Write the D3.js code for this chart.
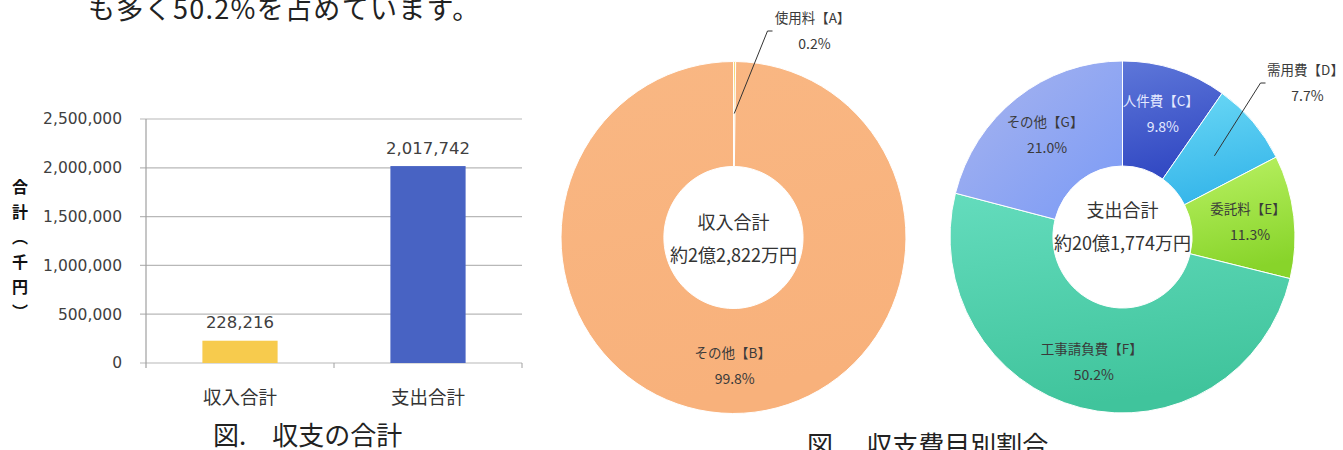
<!DOCTYPE html>
<html><head><meta charset="utf-8">
<script src="https://cdn.jsdelivr.net/npm/d3@7"></script>
<style>
body{margin:0;background:#fff;overflow:hidden}
svg{display:block}
.jp{font-family:"Noto Sans CJK JP","Noto Sans",sans-serif}
.num{font-family:"DejaVu Sans",Verdana,sans-serif}
</style>
</head><body>
<svg id="c" width="1343" height="450"></svg>
<script>
// ---------- data ----------
const headline = "も多く50.2%を占めています。";
const barCaption = "図.　収支の合計";
const pieCaption = "図.　収支費目別割合";
const yTitle = "合計（千円）";

const barCategories = ["収入合計", "支出合計"];
const barValues = [228216, 2017742];
const barColors = ["#F7CB4D", "#4863C3"];
const yTicks = [0, 500000, 1000000, 1500000, 2000000, 2500000];

const incomeTitle = ["収入合計", "約2億2,822万円"];
const incomeLabels = ["使用料【A】", "その他【B】"];
const incomeShares = [0.2, 99.8];
const incomeColors = [["#F8DA7A", "#F4CF66"], ["#F9B783", "#F8B17B"]];

const expenseTitle = ["支出合計", "約20億1,774万円"];
const expenseLabels = ["人件費【C】", "需用費【D】", "委託料【E】", "工事請負費【F】", "その他【G】"];
const expenseShares = [9.8, 7.7, 11.3, 50.2, 21.0];
const expenseColors = [["#5E77D9", "#3249C3"], ["#6AD8F5", "#36B6EA"], ["#BAF264", "#88D42A"], ["#64DCBD", "#40C49C"], ["#A9B5EE", "#7A9AF6"]];

// ---------- setup ----------
const svg = d3.select("#c");
const defs = svg.append("defs");
const txt = "#404040";

svg.append("text").attr("class", "jp").attr("x", 88).attr("y", 19)
  .attr("font-size", 27).attr("letter-spacing", 1.3).attr("fill", "#222").text(headline);

// ---------- bar chart ----------
const x = d3.scaleBand().domain(barCategories).range([146, 522]).padding(0);
const y = d3.scaleLinear().domain([0, 2500000]).range([363, 119]);

const gb = svg.append("g");
// gridlines
gb.selectAll("line.grid").data(yTicks).join("line")
  .attr("x1", 140).attr("x2", 522)
  .attr("y1", d => y(d)).attr("y2", d => y(d))
  .attr("stroke", "#B8B8B8").attr("stroke-width", 1.2);
// y axis
const yAxis = gb.append("g").attr("transform", "translate(146,0)")
  .call(d3.axisLeft(y).tickValues(yTicks).tickFormat(d3.format(",")).tickSize(0).tickPadding(24));
yAxis.select(".domain").remove();
yAxis.selectAll("text").attr("class", "num").attr("font-size", 15.5).attr("fill", txt);
gb.append("line").attr("x1", 146).attr("x2", 146).attr("y1", y(2500000)).attr("y2", 368)
  .attr("stroke", "#A0A0A0").attr("stroke-width", 1.2);
// category ticks
gb.selectAll("line.ctick").data(barCategories).join("line")
  .attr("x1", d => x(d) + x.bandwidth()).attr("x2", d => x(d) + x.bandwidth())
  .attr("y1", y(0)).attr("y2", y(0) + 5).attr("stroke", "#A0A0A0");
// bars
const bw = x.bandwidth() * 0.4;
gb.selectAll("rect.bar").data(barValues).join("rect")
  .attr("x", (d, i) => x(barCategories[i]) + (x.bandwidth() - bw) / 2)
  .attr("width", bw)
  .attr("y", d => y(d)).attr("height", d => y(0) - y(d))
  .attr("fill", (d, i) => barColors[i]);
// value labels
gb.selectAll("text.val").data(barValues).join("text")
  .attr("class", "num").attr("font-size", 16.5).attr("fill", txt)
  .attr("text-anchor", "middle")
  .attr("x", (d, i) => x(barCategories[i]) + x.bandwidth() / 2)
  .attr("y", d => y(d) - 12.5)
  .text(d => d3.format(",")(d));
// category labels
gb.selectAll("text.cat").data(barCategories).join("text")
  .attr("class", "jp").attr("font-size", 18.5).attr("fill", "#333")
  .attr("text-anchor", "middle")
  .attr("x", d => x(d) + x.bandwidth() / 2).attr("y", 404)
  .text(d => d);
// y title (vertical)
gb.append("text").attr("class", "jp")
  .attr("x", 20).attr("y", 179)
  .style("writing-mode", "vertical-rl")
  .attr("font-size", 16).attr("font-weight", "bold").attr("fill", "#111")
  .attr("letter-spacing", 9)
  .text(yTitle);
// caption
svg.append("text").attr("class", "jp").attr("x", 213).attr("y", 445)
  .attr("font-size", 26).attr("fill", "#222").text(barCaption);

// ---------- donuts ----------
const R = 176, r0 = 71, sx = 0.98;
function donut(id, cx, cy, shares, labels, colors, title, titleDy, outside, labelColors) {
  const g = svg.append("g").attr("transform", `translate(${cx},${cy})`);
  const arcs = d3.pie().sort(null).value(d => d)(shares);
  const arc = d3.arc().innerRadius(r0).outerRadius(R);
  const labArc = d3.arc().innerRadius(129).outerRadius(129);
  const leadArc = d3.arc().innerRadius(124).outerRadius(124);
  arcs.forEach((a, i) => {
    const gid = `${id}g${i}`;
    const lg = defs.append("linearGradient").attr("id", gid)
      .attr("x1", 0).attr("y1", 0).attr("x2", i === labels.length - 1 && id === "e" ? 1 : 0.2).attr("y2", 1);
    lg.append("stop").attr("offset", "0%").attr("stop-color", colors[i][0]);
    lg.append("stop").attr("offset", "100%").attr("stop-color", colors[i][1]);
  });
  const gs = g.append("g").attr("transform", `scale(${sx},1)`);
  gs.selectAll("path").data(arcs).join("path")
    .attr("d", arc)
    .attr("fill", (d, i) => `url(#${id}g${i})`)
    .attr("stroke", "#fff").attr("stroke-width", 1);
  // center title
  g.append("text").attr("class", "jp").attr("text-anchor", "middle").attr("font-size", 18)
    .attr("fill", "#333").attr("y", titleDy[0]).text(title[0]);
  g.append("text").attr("class", "jp").attr("text-anchor", "middle").attr("font-size", 18)
    .attr("fill", "#333").attr("y", titleDy[1]).text(title[1]);
  // labels
  arcs.forEach((a, i) => {
    const pct = d3.format(".1f")(shares[i]) + "%";
    let lx, ly;
    if (outside[i]) {
      lx = outside[i][0]; ly = outside[i][1];
      const [px, py] = leadArc.centroid(a);
      const ex = lx - 45, ey = ly + 8;
      g.append("polyline")
        .attr("points", `${px * sx},${py} ${ex},${ey} ${ex + 5},${ey}`)
        .attr("fill", "none").attr("stroke", "#333").attr("stroke-width", 1);
    } else {
      const [cx2, cy2] = labArc.centroid(a);
      lx = cx2 * sx; ly = cy2 - 8;
    }
    const col = labelColors[i] || "#3a3a3a";
    g.append("text").attr("class", "jp").attr("text-anchor", "middle").attr("font-size", 13.5)
      .attr("fill", col).attr("x", lx).attr("y", ly).text(labels[i]);
    g.append("text").attr("class", "jp").attr("text-anchor", "middle").attr("font-size", 14)
      .attr("fill", col).attr("x", lx + 2).attr("y", ly + 26).text(pct);
  });
}

donut("i", 733.5, 237.5, incomeShares, incomeLabels, incomeColors, incomeTitle, [-9, 24],
  [[79, -214.5], null], []);
donut("e", 1122.5, 237, expenseShares, expenseLabels, expenseColors, expenseTitle, [-20, 13],
  [null, [183, -162], null, null, null], ["#E4EAFF"]);

svg.append("text").attr("class", "jp").attr("x", 807).attr("y", 455)
  .attr("font-size", 26).attr("fill", "#222").text(pieCaption);
</script>
</body></html>
